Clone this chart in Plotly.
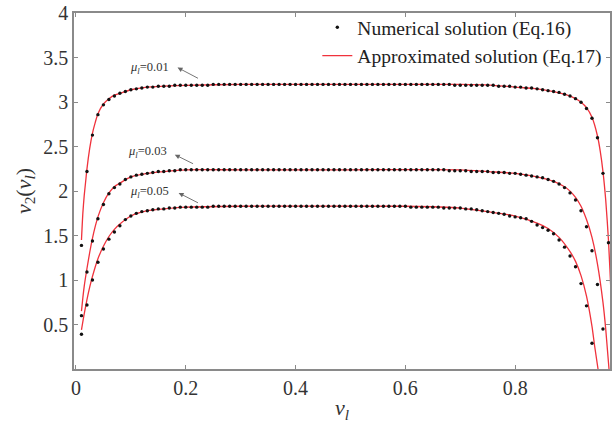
import plotly.graph_objects as go

# ---- numerical solution (Eq.16): dots at nu_l = 0.01, 0.02, ...
x_num_001 = [round(0.01 * k, 2) for k in range(1, 98)]
y_num_001 = [1.39, 2.22, 2.63, 2.86, 2.97, 3.03, 3.07, 3.10, 3.12, 3.14,
             3.15, 3.16, 3.17, 3.17, 3.18, 3.18, 3.18, 3.19, 3.19, 3.19,
             3.19, 3.19, 3.19, 3.19, 3.20, 3.20, 3.20, 3.20, 3.20, 3.20,
             3.20, 3.20, 3.20, 3.20, 3.20, 3.20, 3.20, 3.20, 3.20, 3.20,
             3.20, 3.20, 3.20, 3.20, 3.20, 3.20, 3.20, 3.20, 3.20, 3.20,
             3.20, 3.20, 3.20, 3.20, 3.20, 3.20, 3.20, 3.20, 3.20, 3.20,
             3.20, 3.20, 3.20, 3.20, 3.20, 3.20, 3.20, 3.20, 3.19, 3.19,
             3.19, 3.19, 3.19, 3.19, 3.19, 3.19, 3.18, 3.18, 3.18, 3.17,
             3.17, 3.16, 3.16, 3.15, 3.14, 3.13, 3.12, 3.11, 3.09, 3.07,
             3.04, 3.00, 2.93, 2.82, 2.60, 2.20, 1.42]

x_num_003 = [round(0.01 * k, 2) for k in range(1, 97)]
y_num_003 = [0.60, 1.09, 1.44, 1.69, 1.85, 1.97, 2.04, 2.08, 2.13, 2.16,
             2.18, 2.19, 2.20, 2.21, 2.22, 2.22, 2.23, 2.23, 2.24, 2.24,
             2.24, 2.24, 2.24, 2.24, 2.24, 2.24, 2.24, 2.24, 2.24, 2.24,
             2.24, 2.24, 2.24, 2.24, 2.24, 2.24, 2.24, 2.24, 2.24, 2.24,
             2.24, 2.24, 2.24, 2.24, 2.24, 2.24, 2.24, 2.24, 2.24, 2.24,
             2.24, 2.24, 2.24, 2.24, 2.24, 2.24, 2.24, 2.24, 2.24, 2.24,
             2.24, 2.24, 2.24, 2.24, 2.24, 2.24, 2.24, 2.23, 2.23, 2.23,
             2.23, 2.22, 2.22, 2.22, 2.22, 2.21, 2.21, 2.21, 2.20, 2.20,
             2.19, 2.18, 2.17, 2.16, 2.15, 2.13, 2.11, 2.08, 2.04, 1.98,
             1.90, 1.78, 1.60, 1.33, 0.95, 0.45]

x_num_005 = [round(0.01 * k, 2) for k in range(1, 95)]
y_num_005 = [0.39, 0.72, 1.00, 1.20, 1.35, 1.46, 1.54, 1.61, 1.68, 1.72,
             1.75, 1.77, 1.78, 1.79, 1.80, 1.80, 1.81, 1.81, 1.82, 1.82,
             1.82, 1.82, 1.82, 1.82, 1.83, 1.83, 1.83, 1.83, 1.83, 1.83,
             1.83, 1.83, 1.83, 1.83, 1.83, 1.83, 1.83, 1.83, 1.83, 1.83,
             1.83, 1.83, 1.83, 1.83, 1.83, 1.83, 1.83, 1.83, 1.83, 1.83,
             1.83, 1.83, 1.83, 1.83, 1.83, 1.83, 1.83, 1.83, 1.83, 1.83,
             1.82, 1.82, 1.82, 1.82, 1.82, 1.82, 1.81, 1.81, 1.81, 1.81,
             1.80, 1.80, 1.79, 1.78, 1.77, 1.76, 1.75, 1.74, 1.72, 1.71,
             1.70, 1.69, 1.66, 1.62, 1.59, 1.56, 1.52, 1.45, 1.37, 1.27,
             1.15, 0.96, 0.71, 0.29]

# ---- approximated solution (Eq.17): red lines
x_app_001 = [0.01, 0.0125, 0.015, 0.0175, 0.02, 0.025, 0.03, 0.035, 0.04, 0.05,
             0.06, 0.07, 0.08, 0.10, 0.13, 0.16, 0.20, 0.30, 0.50, 0.70,
             0.76, 0.80, 0.84, 0.87, 0.89, 0.91, 0.92, 0.93, 0.94, 0.95,
             0.955, 0.96, 0.965, 0.97, 0.975, 0.98]
y_app_001 = [1.45, 1.75, 1.95, 2.10, 2.25, 2.48, 2.65, 2.77, 2.87, 2.98,
             3.04, 3.08, 3.10, 3.14, 3.17, 3.18, 3.19, 3.20, 3.20, 3.20,
             3.19, 3.17, 3.15, 3.12, 3.09, 3.04, 3.00, 2.94, 2.83, 2.62,
             2.45, 2.22, 1.90, 1.45, 0.80, 0.00]

x_app_003 = [0.01, 0.0125, 0.015, 0.02, 0.025, 0.03, 0.04, 0.05, 0.06, 0.07,
             0.08, 0.10, 0.13, 0.16, 0.20, 0.30, 0.50, 0.70, 0.75, 0.80,
             0.84, 0.87, 0.89, 0.90, 0.91, 0.92, 0.93, 0.94, 0.95, 0.96,
             0.965, 0.971]
y_app_003 = [0.65, 0.80, 0.93, 1.13, 1.31, 1.47, 1.71, 1.87, 1.98, 2.05,
             2.09, 2.16, 2.20, 2.22, 2.24, 2.24, 2.24, 2.24, 2.22, 2.20,
             2.16, 2.11, 2.05, 2.00, 1.93, 1.83, 1.68, 1.48, 1.18, 0.75,
             0.45, 0.00]

x_app_005 = [0.01, 0.015, 0.02, 0.025, 0.03, 0.04, 0.05, 0.06, 0.07, 0.08,
             0.10, 0.13, 0.16, 0.20, 0.30, 0.60, 0.70, 0.75, 0.80, 0.84,
             0.86, 0.88, 0.90, 0.91, 0.92, 0.93, 0.94, 0.945, 0.951]
y_app_005 = [0.44, 0.62, 0.78, 0.92, 1.04, 1.24, 1.38, 1.49, 1.57, 1.63,
             1.72, 1.78, 1.80, 1.82, 1.83, 1.83, 1.81, 1.77, 1.72, 1.64,
             1.58, 1.48, 1.32, 1.21, 1.05, 0.82, 0.48, 0.25, 0.00]

mu_labels = ["<i>μ<sub>l</sub></i>=0.01", "<i>μ<sub>l</sub></i>=0.03", "<i>μ<sub>l</sub></i>=0.05"]
x_ticks = [0, 0.2, 0.4, 0.6, 0.8, 1]
y_ticks = [0.5, 1, 1.5, 2, 2.5, 3, 3.5, 4]

SERIF = "Liberation Serif, Times New Roman, serif"
RED = "#f0323c"

fig = go.Figure()
for xa, ya in [(x_app_001, y_app_001), (x_app_003, y_app_003), (x_app_005, y_app_005)]:
    fig.add_trace(go.Scatter(x=xa, y=ya, mode="lines",
                             line=dict(color=RED, width=1.3, shape="spline", smoothing=0.6),
                             name="Approximated solution (Eq.17)", showlegend=False))
for i, (xn, yn) in enumerate([(x_num_001, y_num_001), (x_num_003, y_num_003), (x_num_005, y_num_005)]):
    fig.add_trace(go.Scatter(x=xn, y=yn, mode="markers", marker=dict(color="#111111", size=3.4),
                             name="Numerical solution (Eq.16)", showlegend=(i == 0)))
fig.add_trace(go.Scatter(x=[None], y=[None], mode="lines", line=dict(color=RED, width=1.3),
                         name="Approximated solution (Eq.17)", showlegend=True))

# annotations: labels and arrows
label_pos = [(0.134, 3.39), (0.131, 2.44), (0.134, 1.99)]
arrow_head = [(0.185, 3.39), (0.180, 2.41), (0.187, 1.98)]
arrow_tail = [(0.225, 3.26), (0.216, 2.30), (0.225, 1.86)]
for lab, (lx, ly), (hx, hy), (tx, ty) in zip(mu_labels, label_pos, arrow_head, arrow_tail):
    fig.add_annotation(x=lx, y=ly, text=lab, showarrow=False,
                       font=dict(family=SERIF, size=12.5, color="#333333"))
    fig.add_annotation(x=hx, y=hy, ax=tx, ay=ty, axref="x", ayref="y", text="",
                       showarrow=True, arrowhead=2, arrowsize=1.1, arrowwidth=0.9,
                       arrowcolor="#666666")

axis_common = dict(showline=True, linecolor="#8a8a8a", linewidth=1.5, mirror="ticks",
                   ticks="inside", ticklen=4, tickcolor="#8a8a8a", showgrid=False,
                   zeroline=False, ticklabeloverflow="allow",
                   tickfont=dict(family=SERIF, size=20, color="#333333"))
fig.update_xaxes(range=[-0.0036, 0.9728], tickvals=x_ticks, ticktext=[str(v) for v in x_ticks],
                 title=dict(text="<i>ν<sub>l</sub></i>", font=dict(family=SERIF, size=22, color="#333333"),
                            standoff=2), **axis_common)
fig.update_yaxes(range=[0, 4.003], tickvals=y_ticks, ticktext=["0.5", "1", "1.5", "2", "2.5", "3", "3.5", "4"],
                 title=dict(text="<i>ν</i><sub>2</sub>(<i>ν<sub>l</sub></i>)",
                            font=dict(family=SERIF, size=22, color="#333333"), standoff=6), **axis_common)

fig.update_layout(width=614, height=430, margin=dict(l=74, r=2, t=10, b=61),
                  plot_bgcolor="white", paper_bgcolor="white",
                  legend=dict(x=0.995, y=1.014, xanchor="right", yanchor="top", bgcolor="rgba(0,0,0,0)",
                              font=dict(family=SERIF, size=19.5, color="#222222"), itemwidth=30,
                              tracegroupgap=0))
fig.write_html("out.html")
